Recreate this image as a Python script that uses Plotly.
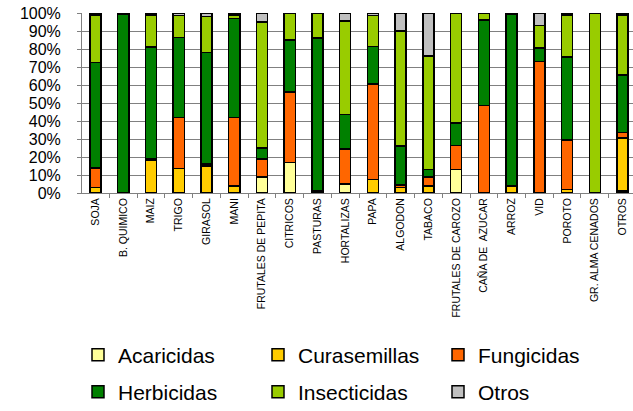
import plotly.graph_objects as go

categories = ["SOJA", "B. QUIMICO", "MAIZ", "TRIGO", "GIRASOL", "MANI",
              "FRUTALES DE PEPITA", "CITRICOS", "PASTURAS", "HORTALIZAS", "PAPA",
              "ALGODON", "TABACO", "FRUTALES DE CAROZO", "CAÑA DE  AZUCAR", "ARROZ",
              "VID", "POROTO", "GR. ALMA CENADOS", "OTROS"]

acaricidas   = [0, 0, 0, 0, 0, 0, 9, 17, 0, 5, 0, 0, 0, 13, 0, 0, 0, 0, 0, 1]
curasemillas = [3, 0, 18, 13.5, 15, 4, 0, 0, 0, 0, 7.5, 3, 4, 0, 0, 4, 0, 2, 0, 29.5]
fungicidas   = [11, 0, 1, 28.5, 1, 38, 10, 39, 1, 19.5, 53, 1.5, 5, 13.5, 48.5, 0, 73, 27.5, 0, 3]
herbicidas   = [58.5, 99.5, 62, 44.5, 62, 55, 6, 29, 85, 19, 21, 21.5, 4, 12.5, 47.5, 95.5, 7.5, 46, 0, 32]
insecticidas = [26.5, 0.5, 18, 12, 20, 2, 70, 15, 14, 52, 17, 64, 63, 61, 4, 0.5, 12.5, 23.5, 100, 33.5]
otros        = [1, 0, 1, 1.5, 2, 1, 5, 0, 0, 4.5, 1.5, 10, 24, 0, 0, 0, 7, 1, 0, 1]

series = [
    ("Acaricidas", acaricidas, "#FFFF99", "legend"),
    ("Curasemillas", curasemillas, "#FFCC00", "legend"),
    ("Fungicidas", fungicidas, "#FF6600", "legend"),
    ("Herbicidas", herbicidas, "#008000", "legend2"),
    ("Insecticidas", insecticidas, "#99CC00", "legend2"),
    ("Otros", otros, "#C0C0C0", "legend2"),
]

fig = go.Figure()
for name, vals, color, lg in series:
    fig.add_trace(go.Bar(
        x=categories, y=[v if v else None for v in vals], name=name,
        marker=dict(color=color, line=dict(color="black", width=1.5)),
        legend=lg,
    ))

font = "Liberation Sans, Arial, sans-serif"
legend_common = dict(orientation="h", xref="container", yref="container",
                     xanchor="left", yanchor="middle", entrywidth=135,
                     entrywidthmode="pixels", font=dict(family=font, size=21, color="black"),
                     bgcolor="rgba(0,0,0,0)", traceorder="normal")

fig.update_layout(
    width=633, height=411,
    margin=dict(l=82, r=0, t=13, b=218, autoexpand=False),
    barmode="stack", bargap=0.6,
    plot_bgcolor="white", paper_bgcolor="white",
    font=dict(family=font, color="black"),
    legend=dict(x=78/633, y=1-355/411, **legend_common),
    legend2=dict(x=78/633, y=1-392/411, **legend_common),
    xaxis=dict(range=[-0.487, 19.375], tickangle=-90, automargin=False,
               tickfont=dict(size=10.5, family=font), showline=True, linecolor="#808080",
               linewidth=1, ticks="outside", tickson="boundaries", ticklen=4,
               tickcolor="#808080", showgrid=False),
    yaxis=dict(range=[0, 100], dtick=10, ticksuffix="%", tickfont=dict(size=16, family=font),
               automargin=False, ticklabelstandoff=13,
               showline=True, linecolor="#808080", linewidth=1, ticks="outside", ticklen=4,
               tickcolor="#808080", gridcolor="#808080", gridwidth=1, zeroline=False),
)
fig.write_html("out.html", post_script="document.body.style.margin='0';",
               config={"displayModeBar": False})
